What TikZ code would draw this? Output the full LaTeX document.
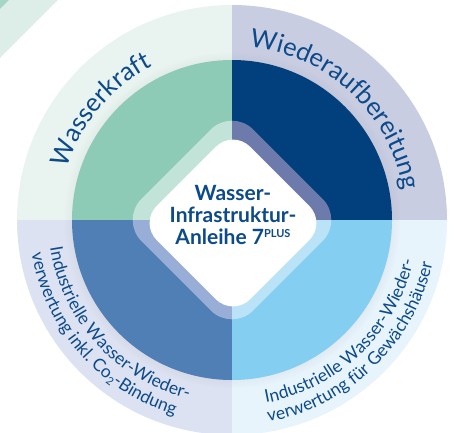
\documentclass[tikz,border=0pt]{standalone}
\usepackage{fontspec}
\setmainfont{Lato}
\usetikzlibrary{decorations.text,shadows}

\definecolor{ink}{HTML}{0D4A8A}
\definecolor{stripe}{HTML}{DDEEE8}
\definecolor{stripecorner}{HTML}{A6D5C6}
\definecolor{ringTL}{HTML}{E9F4F0}
\definecolor{ringTR}{HTML}{C9CDE2}
\definecolor{ringBL}{HTML}{DCE2F1}
\definecolor{ringBR}{HTML}{E8F4FC}
\definecolor{fillTL}{HTML}{8ECBB7}
\definecolor{fillTR}{HTML}{013F7D}
\definecolor{fillBL}{HTML}{4F7FB5}
\definecolor{fillBR}{HTML}{84CEF2}
\definecolor{bandTL}{HTML}{C2E3D8}
\definecolor{bandTR}{HTML}{6C7BAC}
\definecolor{bandBL}{HTML}{98AED7}
\definecolor{bandBR}{HTML}{BBE3F7}

\newcommand\labelfont{\fontsize{25.5pt}{25.5pt}\selectfont}
\newcommand\smalllabelfont{\fontsize{17.5pt}{17.5pt}\selectfont}
\newcommand\subfont{\fontsize{11pt}{11pt}\selectfont}

\begin{document}
\begin{tikzpicture} [
    x=1pt, y=1pt,
    tile/.style    = { rectangle, rotate=45, inner sep=0pt, minimum size=#1 },
    caption/.style = { decorate, decoration={text along path, text align=center,
                       text color=ink} },
  ]
  \useasboundingbox (-232,-212) rectangle (222,220);

  % corner stripe
  \fill[stripe] (-232,162) -- (-174,220) -- (-232,220) -- cycle;
  \fill[stripecorner] (-232,211) -- (-223,220) -- (-232,220) -- cycle;

  % outer ring
  \foreach \a/\c in {90/ringTL, 0/ringTR, 180/ringBL, 270/ringBR}
    \fill[\c] (0,0) -- (\a:215pt) arc[start angle=\a, delta angle=90, radius=215pt] -- cycle;

  % inner quarters
  \path[circular drop shadow={shadow scale=1.05, shadow xshift=0pt, shadow yshift=0pt,
        opacity=.22}] (0,0) circle[radius=160pt];
  \foreach \a/\c in {90/fillTL, 0/fillTR, 180/fillBL, 270/fillBR}
    \fill[\c] (0,0) -- (\a:160pt) arc[start angle=\a, delta angle=90, radius=160pt] -- cycle;

  % light band round the centre
  \foreach \a/\c in {90/bandTL, 0/bandTR, 180/bandBL, 270/bandBR} {
    \begin{scope}
      \clip (0,0) -- (\a:300pt) -- (\a+90:300pt) -- cycle;
      \node[tile=158pt, rounded corners=30pt, fill=\c] (band\a) at (0,0) {};
    \end{scope}
  }

  % centre
  \node[tile=132pt, rounded corners=24pt, fill=white] (core) at (1,-3) {};
  \node[font=\bfseries\fontsize{21pt}{22pt}\selectfont, text=ink, align=center] (title) at (1,5)
    {Wasser-\\Infrastruktur-\\Anleihe 7\raisebox{7pt}{\fontsize{11pt}{11pt}\selectfont PLUS}};

  % captions on the ring
  \path[caption, decoration={text={|\labelfont|Wasserkraft}}]
    (175:173pt) arc[start angle=175, end angle=105, radius=173pt];
  \path[caption, decoration={text={|\labelfont|Wiederaufbereitung}}]
    (95:174pt) arc[start angle=95, end angle=-1, radius=174pt];
  \path[caption, decoration={text={|\smalllabelfont|Industrielle Wasser-Wieder-}}]
    (178:184pt) arc[start angle=178, end angle=267, radius=184pt];
  \path[caption, decoration={text={|\smalllabelfont|verwertung inkl. Co{\raisebox{-3pt}{\subfont 2}}-Bindung}}]
    (178:203pt) arc[start angle=178, end angle=265, radius=203pt];
  \path[caption, decoration={text={|\smalllabelfont|Industrielle Wasser-Wieder-}}]
    (270:186pt) arc[start angle=270, end angle=358, radius=186pt];
  \path[caption, decoration={text={|\smalllabelfont|verwertung für Gewächshäuser}}]
    (270:205pt) arc[start angle=270, end angle=358, radius=205pt];
\end{tikzpicture}
\end{document}
